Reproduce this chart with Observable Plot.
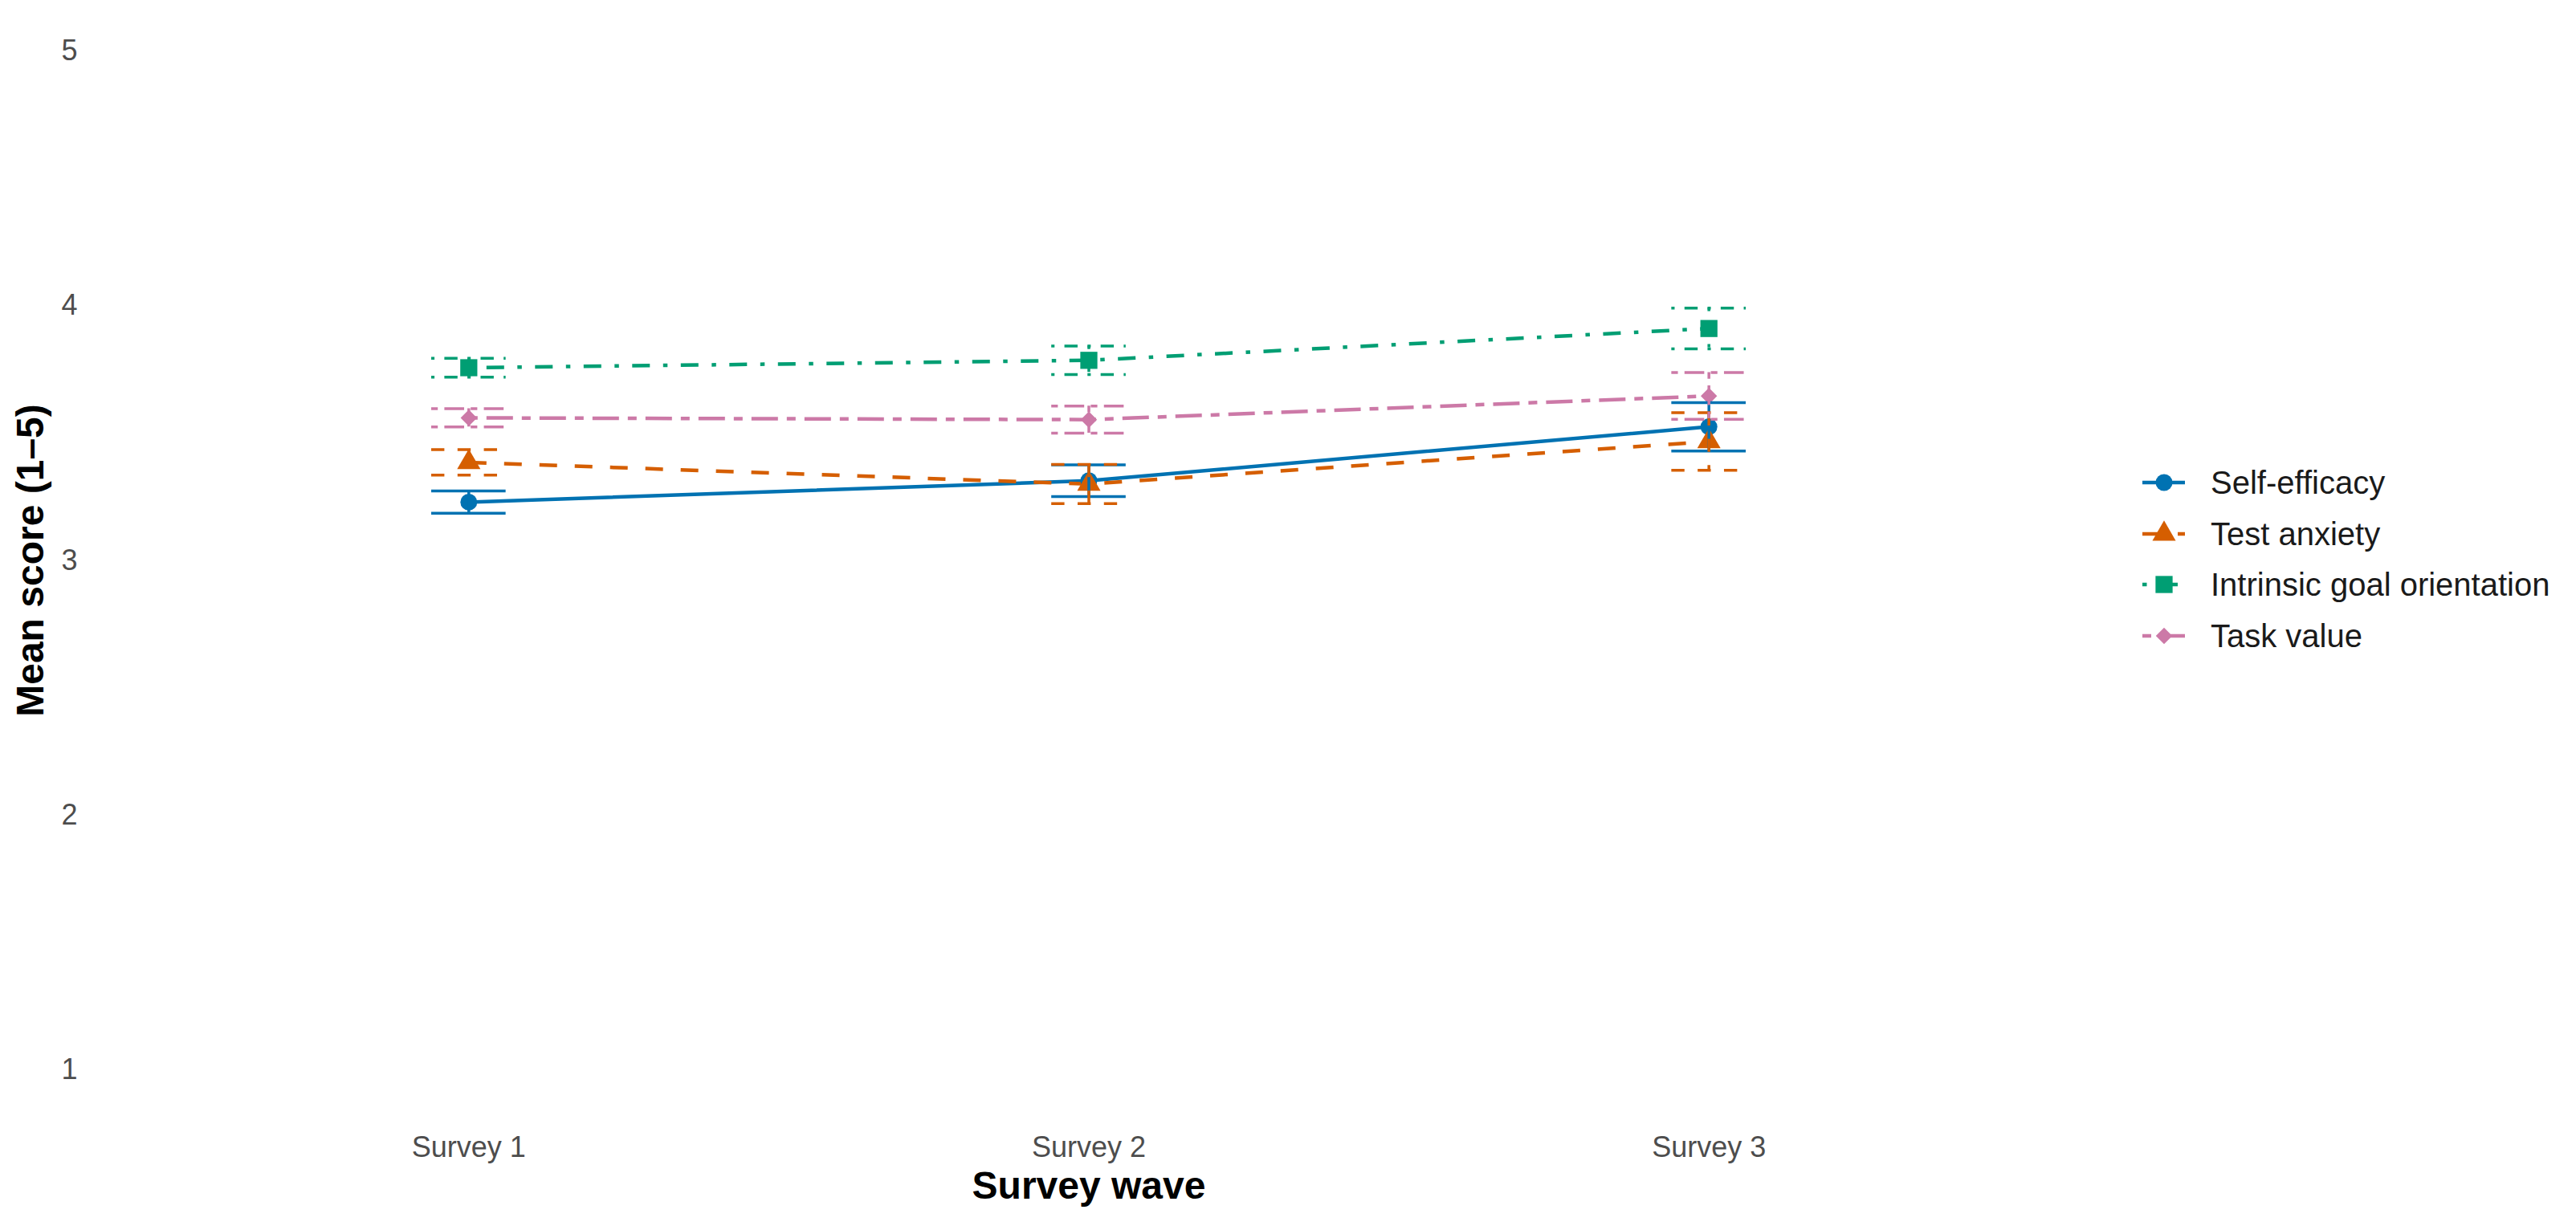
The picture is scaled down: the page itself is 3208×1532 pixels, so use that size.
<!DOCTYPE html>
<html>
<head>
<meta charset="utf-8">
<script src="https://cdn.jsdelivr.net/npm/d3@7"></script>
<script src="https://cdn.jsdelivr.net/npm/@observablehq/plot@0.6"></script>
<style>
  html, body { margin: 0; padding: 0; background: #ffffff; }
  body { font-family: "Liberation Sans", Arial, Helvetica, sans-serif; }
  #wrap { position: relative; width: 3208px; height: 1532px; overflow: hidden; }
  .lg-row { position: absolute; left: 2668px; height: 64px; display: flex; align-items: center; }
  .lg-row span { font-size: 40px; color: #1a1a1a; margin-left: 31px; white-space: nowrap; }
</style>
</head>
<body>
<div id="wrap"></div>
<script>
// ---- data ----
const waves = ["Survey 1", "Survey 2", "Survey 3"];
const seriesNames = ["Self-efficacy", "Test anxiety", "Intrinsic goal orientation", "Task value"];
const selfEfficacyMean = [3.229, 3.313, 3.525];
const selfEfficacySE   = [0.044, 0.062, 0.095];
const testAnxietyMean  = [3.385, 3.300, 3.467];
const testAnxietySE    = [0.050, 0.077, 0.113];
const intrinsicMean    = [3.757, 3.786, 3.911];
const intrinsicSE      = [0.037, 0.056, 0.080];
const taskValueMean    = [3.560, 3.553, 3.646];
const taskValueSE      = [0.036, 0.053, 0.092];
const yTicks = [1, 2, 3, 4, 5];

// ---- styles ----
const colors = ["#0072B2", "#D55E00", "#009E73", "#CC79A7"];
const symbols = ["circle", "triangle", "square", "diamond2"];
const radii = [10.5, 10.8, 12, 9.2];
const patterns = [null, [4, 4], [1, 3, 4, 3], [2, 2, 6, 2]];
const lineW = 4.5, lineUnit = 5.5;
const barW = 3.5, barUnit = 4.1;
const capHalf = 0.06;

const means = [selfEfficacyMean, testAnxietyMean, intrinsicMean, taskValueMean];
const ses = [selfEfficacySE, testAnxietySE, intrinsicSE, taskValueSE];

const rows = [];
seriesNames.forEach((s, k) => {
  waves.forEach((w, i) => {
    rows.push({series: s, k, wave: i + 1, mean: means[k][i],
               lo: means[k][i] - ses[k][i], hi: means[k][i] + ses[k][i]});
  });
});
const dash = (k, u) => patterns[k] ? patterns[k].map(v => v * u).join(",") : null;

const lineMarks = [], dotMarks = [], barMarks = [];
seriesNames.forEach((s, k) => {
  const d = rows.filter(r => r.k === k);
  lineMarks.push(Plot.line(d, {x: "wave", y: "mean", stroke: colors[k], strokeWidth: lineW,
    strokeDasharray: dash(k, lineUnit), strokeLinecap: "butt"}));
  dotMarks.push(Plot.dot(d, {x: "wave", y: "mean", symbol: symbols[k], r: radii[k],
    fill: colors[k], stroke: "none"}));
  const common = {stroke: colors[k], strokeWidth: barW, strokeDasharray: dash(k, barUnit), strokeLinecap: "butt"};
  barMarks.push(Plot.ruleY(d, {y: "hi", x1: r => r.wave - capHalf, x2: r => r.wave + capHalf, ...common}));
  barMarks.push(Plot.ruleX(d, {x: "wave", y1: "hi", y2: "lo", ...common}));
  barMarks.push(Plot.ruleY(d, {y: "lo", x1: r => r.wave - capHalf, x2: r => r.wave + capHalf, ...common}));
});

const chart = Plot.plot({
  width: 3208,
  height: 1532,
  marginLeft: 120,
  marginRight: 617,
  marginTop: 0,
  marginBottom: 137,
  style: {fontFamily: '"Liberation Sans", Arial, Helvetica, sans-serif', background: "#ffffff"},
  x: {type: "linear", domain: [0.4, 3.6]},
  y: {domain: [0.8, 5.2]},
  marks: [
    Plot.axisY({ticks: yTicks, tickFormat: d => String(d), tickSize: 0, tickPadding: 24, fontSize: 36, color: "#4d4d4d", label: null}),
    Plot.axisX({ticks: [1, 2, 3], tickFormat: i => waves[i - 1], tickSize: 0, tickPadding: 20,
      fontSize: 36, color: "#4d4d4d", label: null}),
    ...lineMarks,
    ...dotMarks,
    ...barMarks,
    Plot.text(["Survey wave"], {frameAnchor: "bottom", dy: 97, fontSize: 48, fontWeight: "bold", fill: "#000000"}),
    Plot.text(["Mean score (1\u20135)"], {frameAnchor: "left", textAnchor: "middle", dx: -82, rotate: -90, fontSize: 48, fontWeight: "bold", fill: "#000000"})
  ]
});
const wrap = document.getElementById("wrap");
wrap.appendChild(chart);

// ---- legend ----
const legendCenters = [601, 665, 728, 792];
seriesNames.forEach((s, k) => {
  const row = document.createElement("div");
  row.className = "lg-row";
  row.style.top = (legendCenters[k] - 32) + "px";
  const svg = d3.create("svg").attr("width", 54).attr("height", 64);
  svg.append("line").attr("x1", 0).attr("x2", 53).attr("y1", 32).attr("y2", 32)
    .attr("stroke", colors[k]).attr("stroke-width", lineW)
    .attr("stroke-dasharray", dash(k, lineUnit)).attr("stroke-linecap", "butt");
  const symMap = {circle: d3.symbolCircle, triangle: d3.symbolTriangle, square: d3.symbolSquare, diamond2: d3.symbolDiamond2};
  svg.append("path").attr("transform", "translate(27,32)")
    .attr("d", d3.symbol(symMap[symbols[k]], radii[k] * radii[k] * Math.PI)())
    .attr("fill", colors[k]);
  row.appendChild(svg.node());
  const t = document.createElement("span");
  t.textContent = s;
  row.appendChild(t);
  wrap.appendChild(row);
});
</script>
</body>
</html>
